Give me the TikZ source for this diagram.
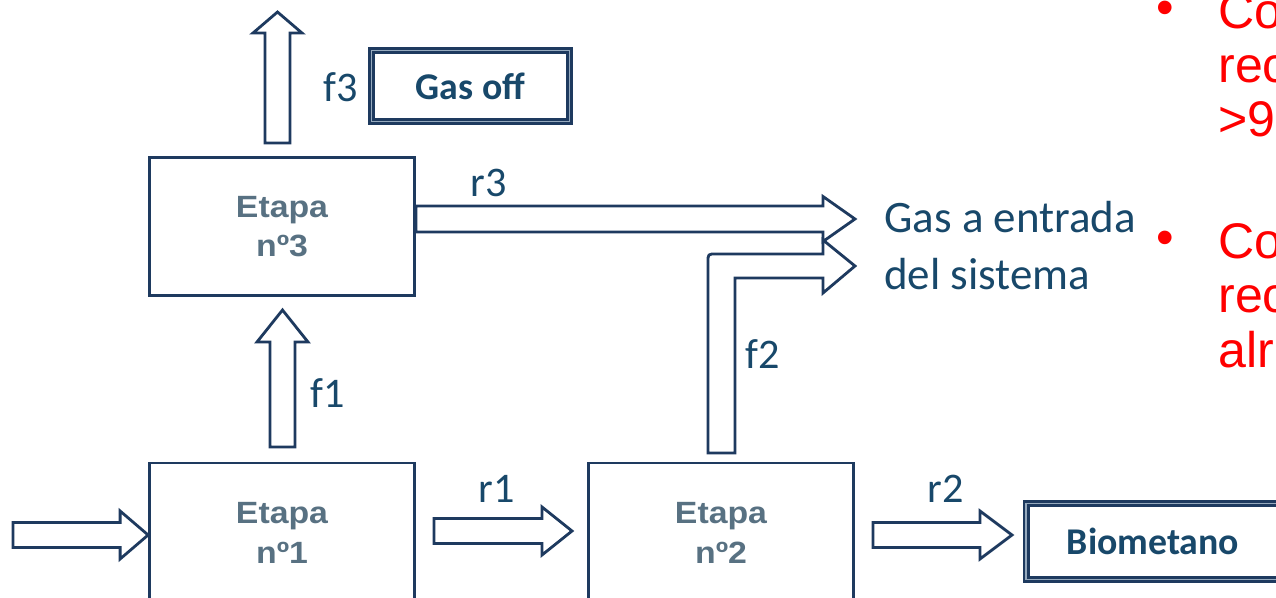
\documentclass[tikz,border=0pt]{standalone}
\usepackage{fontspec}
\setmainfont{Carlito}
\newfontfamily\etapafont[FakeStretch=1.1]{Liberation Sans}
\newfontfamily\notefont{Liberation Sans}
\usetikzlibrary{calc}
\definecolor{boxNavy}{RGB}{30,58,95}
\definecolor{labelNavy}{RGB}{24,72,106}
\definecolor{etapaGrey}{RGB}{88,113,130}
\definecolor{edgeBlue}{RGB}{150,170,190}
\definecolor{slideRed}{RGB}{255,0,0}

\begin{document}
\begin{tikzpicture}[x=0.02cm, y=-0.02cm,
    stage/.style={draw=boxNavy, line width=1.6pt, minimum width=5.3cm, inner sep=0, align=center,
      text=etapaGrey, font=\etapafont\bfseries\fontsize{17.5pt}{22.6pt}\selectfont},
    endbox/.style={draw=boxNavy, line width=1.4pt, double=edgeBlue, double distance=1.1pt, inner sep=0,
      text=labelNavy, font=\bfseries\fontsize{21.5pt}{26pt}\selectfont},
    flow/.style={draw=boxNavy, line width=1.6pt, fill=white, line join=miter},
    lbl/.style={text=labelNavy, inner sep=0, anchor=base west, font=\fontsize{24pt}{28pt}\selectfont},
    note/.style={text=slideRed, inner sep=0, anchor=base west, align=left,
      font=\notefont\fontsize{28.5pt}{31pt}\selectfont}]
  \useasboundingbox (0,0) rectangle (1276,598);
  % the three stages and the two outputs
  \node[stage, minimum height=2.76cm] (e3) at (282,226.5) {Etapa\\nº3};
  \node[stage, minimum height=2.8cm] (e1) at (282,533) {Etapa\\nº1};
  \node[stage, minimum height=2.8cm] (e2) at (721,533) {Etapa\\nº2};
  \node[endbox, minimum width=3.96cm, minimum height=1.42cm] (gasoff) at (470.5,86) {Gas off};
  \node[endbox, minimum width=5.07cm, minimum height=1.52cm] (bio) at (1153,541.5) {Biometano};
  \node[lbl, align=left, font=\fontsize{25.6pt}{32.9pt}\selectfont] (entrada) at (884,290) {Gas a entrada\\del sistema};
  % arrow ends
  \coordinate (inA) at (13,535);   \coordinate (inB) at (e1.west |- inA);
  \coordinate (r1A) at (434,531);  \coordinate (r1B) at (572,531);
  \coordinate (r2A) at (873,535);  \coordinate (r2B) at (1012,535);
  \coordinate (r3B) at (855,219);  \coordinate (r3A) at (e3.east |- r3B);
  \coordinate (f1A) at (282.5,447); \coordinate (f1B) at (282.5,310);
  \coordinate (f3A) at (277.5,143); \coordinate (f3B) at (277.5,12);
  % block arrows, horizontal then vertical
  \foreach \a/\b/\s/\h/\l in {inA/inB/.25cm/.48cm/.56cm, r1A/r1B/.25cm/.48cm/.6cm,
      r2A/r2B/.25cm/.48cm/.64cm, r3A/r3B/.26cm/.45cm/.64cm}{
    \draw[flow] let \p1=(\a), \p2=(\b) in
      (\x1,\y2+\s) -- (\x2-\l,\y2+\s) -- (\x2-\l,\y2+\h) -- (\x2,\y2)
      -- (\x2-\l,\y2-\h) -- (\x2-\l,\y2-\s) -- (\x1,\y2-\s) -- cycle;}
  \foreach \a/\b/\s/\h/\l in {f1A/f1B/.25cm/.51cm/.64cm, f3A/f3B/.25cm/.49cm/.42cm}{
    \draw[flow] let \p1=(\a), \p2=(\b) in
      (\x2+\s,\y1) -- (\x2+\s,\y2-\l) -- (\x2+\h,\y2-\l) -- (\x2,\y2)
      -- (\x2-\h,\y2-\l) -- (\x2-\s,\y2-\l) -- (\x2-\s,\y1) -- cycle;}
  % f2 bends from stage 2 towards the inlet
  \draw[flow] (708,453) -- (708,262) .. controls (708,254) .. (716,254) -- (823,254) -- (823,240)
    -- (855,266) -- (823,293) -- (823,278) -- (735,278) -- (735,453) -- cycle;
  % stream labels
  \node[lbl] (lf3) at (323,102) {f3};
  \node[lbl] (lf1) at (310,407) {f1};
  \node[lbl] (lf2) at (745,368) {f2};
  \node[lbl] (lr3) at (470,196) {r3};
  \node[lbl] (lr1) at (478,502) {r1};
  \node[lbl] (lr2) at (927,502) {r2};
  % red notes, cut by the right edge
  \node[note, anchor=base] (dotA) at (1165,25) {•};
  \node[note] (noteA) at (1218,137) {Co\\rec\\>99};
  \node[note, anchor=base] (dotB) at (1165,255) {•};
  \node[note] (noteB) at (1218,367) {Co\\rec\\alr};
\end{tikzpicture}
\end{document}
